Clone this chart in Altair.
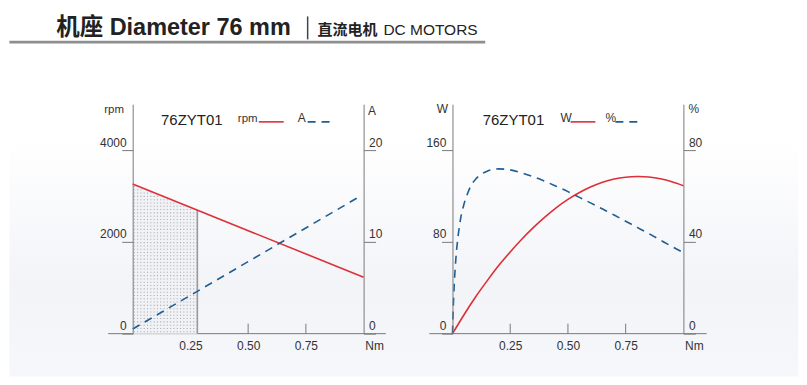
import altair as alt
import numpy as np
import pandas as pd

# ---------------- data ----------------
model = "76ZYT01"
header_main = "机座 Diameter 76 mm"
header_cn = "直流电机"
header_en = "DC MOTORS"

speed_torque = [0.0, 1.0]
speed_rpm = [3260, 1230]

current_torque = [0.0, 0.98]
current_amp = [0.5, 14.9]

rated_torque = [0.0, 0.28]
rated_rpm = [3260, 2692]

power_torque = [0.0, 0.05, 0.10, 0.15, 0.20, 0.25, 0.30, 0.35, 0.40, 0.45, 0.50,
                0.55, 0.60, 0.65, 0.70, 0.75, 0.80, 0.85, 0.90, 0.95, 1.00]
power_w = [0, 16.5, 32, 46, 59.3, 71.2, 82.3, 92.4, 101.5, 109.8, 117,
           123, 128, 132, 134.8, 136.4, 137, 136.6, 135, 132.4, 129]

eff_torque = [0.0, 0.003, 0.008, 0.015, 0.025, 0.035, 0.05, 0.065, 0.08, 0.10, 0.125,
              0.15, 0.20, 0.25, 0.30, 0.35, 0.40, 0.45, 0.50, 0.55, 0.60, 0.65, 0.70,
              0.75, 0.80, 0.85, 0.90, 0.95, 1.00]
eff_pct = [0, 10, 22, 33, 43, 50, 56.5, 61, 64.5, 67.3, 69.5,
           70.8, 71.8, 71.4, 70.1, 68.4, 66.4, 64.2, 61.9, 59.4, 56.9, 54.3, 51.7,
           49.0, 46.3, 43.6, 40.8, 38.0, 35.3]

x_ticks = [0.25, 0.50, 0.75]
x_unit = "Nm"
rpm_ticks = [0, 2000, 4000]
amp_ticks = [0, 10, 20]
w_ticks = [0, 80, 160]
pct_ticks = [0, 40, 80]

# ---------------- styling ----------------
FONT = "Liberation Sans"
CJK = "Liberation Sans, Noto Sans CJK SC"
RED = "#dc2f37"
BLUE = "#1f5e94"
AXC = "#7a7a7a"
TXT = "#333333"
W = 231.5
H = 230

xscale = alt.Scale(domain=[0, 1], nice=False, zero=False)
xaxis = alt.Axis(values=x_ticks, format=".2f", tickSize=0, domain=False, grid=False,
                 labelPadding=7, labelFontSize=12, labelFont=FONT, labelColor=TXT,
                 labelFlush=False, labelOverlap=False, title=None, zindex=1)


def yaxis(vals, orient):
    if orient == "left":
        return alt.Axis(values=vals, orient="left", format="d", tickSize=11, labelPadding=-4.4,
                        labelAlign="right", labelBaseline="alphabetic", labelOffset=-4,
                        domainColor=AXC, tickColor=AXC, labelColor=TXT, labelFontSize=12,
                        labelFont=FONT, grid=False, title=None, labelOverlap=False,
                        labelFlush=False, zindex=1)
    return alt.Axis(values=vals, orient="right", format="d", tickSize=12, labelPadding=-7,
                    labelAlign="left", labelBaseline="alphabetic", labelOffset=-4,
                    domainColor=AXC, tickColor=AXC, labelColor=TXT, labelFontSize=12,
                    labelFont=FONT, grid=False, title=None, labelOverlap=False,
                    labelFlush=False, zindex=1)


one = pd.DataFrame({"k": [0]})


def txt(s, x, y, size=12, weight="normal", align="left", font=FONT, color=TXT):
    return alt.Chart(one).mark_text(text=s, fontSize=size, fontWeight=weight, align=align,
                                    baseline="alphabetic", font=font, color=color).encode(
        x=alt.value(x), y=alt.value(y))


def hrule(x1, x2, y, color, width=1.5, dash=None):
    kw = dict(color=color, strokeWidth=width)
    if dash:
        kw["strokeDash"] = dash
    return alt.Chart(one).mark_rule(**kw).encode(x=alt.value(x1), x2=alt.value(x2), y=alt.value(y))


def x_decor(line_left, line_right):
    ticks_df = pd.DataFrame({"T": x_ticks})
    ticks = alt.Chart(ticks_df).mark_rule(color=AXC, strokeWidth=1).encode(
        x=alt.X("T:Q", scale=xscale, axis=xaxis), y=alt.value(H), y2=alt.value(H - 10))
    base = hrule(line_left, line_right, H, AXC, 1)
    unit = alt.Chart(pd.DataFrame({"T": [1.0]})).mark_text(
        text=x_unit, fontSize=12, font=FONT, color=TXT, baseline="top", dx=11).encode(
        x=alt.X("T:Q", scale=xscale, axis=xaxis), y=alt.value(H + 7))
    return [base, ticks, unit]


# ---------------- background gradient (defines the canvas) ----------------
grad = alt.LinearGradient(gradient="linear", x1=0, x2=0, y1=0, y2=1,
                          stops=[alt.GradientStop(color="#ffffff", offset=0),
                                 alt.GradientStop(color="#ffffff", offset=0.35),
                                 alt.GradientStop(color="#f3f4f8", offset=0.75),
                                 alt.GradientStop(color="#f6f7fa", offset=1)])
bg = alt.Chart(one).mark_rect(fill=grad).encode(
    x=alt.value(-123.6), x2=alt.value(667.4), y=alt.value(-96), y2=alt.value(273))

header = [
    hrule(-123.6, 353.4, -62.3, "#8e8e8e", 2.7),
    txt(header_main, -76.6, -69, size=23.5, weight="bold", font=CJK, color="#222222"),
    alt.Chart(one).mark_rule(color="#444444", strokeWidth=1.5).encode(
        x=alt.value(175.4), y=alt.value(-88), y2=alt.value(-65)),
    txt(header_cn, 185.4, -69, size=15, weight="bold", font=CJK, color="#222222"),
    txt(header_en, 251.4, -69, size=15.5, color="#222222"),
]

# ---------------- left panel: speed / current ----------------
df_speed = pd.DataFrame({"T": speed_torque, "rpm": speed_rpm})
df_cur = pd.DataFrame({"T": current_torque, "amp": current_amp})
df_rated = pd.DataFrame({"T": rated_torque, "rpm": rated_rpm})
df_edge = pd.DataFrame({"T": [rated_torque[-1]], "rpm": [rated_rpm[-1]], "zero": [0]})

# dotted texture for the rated-load zone
gx = np.arange(0.007, rated_torque[-1], 0.0143)
gy = np.arange(40, max(rated_rpm), 72)
GX, GY = np.meshgrid(gx, gy)
GX, GY = GX.ravel(), GY.ravel()
keep = GY < np.interp(GX, rated_torque, rated_rpm) - 25
df_dots = pd.DataFrame({"T": GX[keep], "rpm": GY[keep]})

rpm_scale = alt.Scale(domain=[0, 5000], nice=False, zero=True)
amp_scale = alt.Scale(domain=[0, 25], nice=False, zero=True)
x_enc = alt.X("T:Q", scale=xscale, axis=xaxis)
y_rpm = alt.Y("rpm:Q", scale=rpm_scale, axis=yaxis(rpm_ticks, "left"))

zone = alt.Chart(df_rated).mark_area(color="#f1f2f5", opacity=1).encode(x=x_enc, y=y_rpm)
dots = alt.Chart(df_dots).mark_square(size=1.1, color="#9c9da3", opacity=0.85).encode(x=x_enc, y=y_rpm)
edge = alt.Chart(df_edge).mark_rule(color="#9a9a9a", strokeWidth=1.6).encode(
    x=x_enc, y=y_rpm, y2=alt.Y2("zero:Q"))
speed = alt.Chart(df_speed).mark_line(color=RED, strokeWidth=1.6).encode(x=x_enc, y=y_rpm)
current = alt.Chart(df_cur).mark_line(color=BLUE, strokeWidth=1.6, strokeDash=[8, 6]).encode(
    x=x_enc, y=alt.Y("amp:Q", scale=amp_scale, axis=yaxis(amp_ticks, "right")))

left_annot = [
    txt(model, 28.4, 21, size=15, color="#222222"),
    txt("rpm", 105.4, 17.7, size=11.5),
    hrule(126.4, 151.4, 17.7, RED, 1.6),
    txt("A", 165.4, 17.7, size=12),
    hrule(175.4, 198.4, 17.7, BLUE, 1.6, [8, 6]),
    txt("rpm", -18.6, 8.5, size=11.5, align="center"),
    txt("A", 240, 11, size=12, align="center"),
]

left_inner = alt.layer(zone, dots, edge, speed)
left = alt.layer(
    alt.layer(bg, *header, *x_decor(-24.6, W + 22.3), *left_annot, left_inner),
    current,
).resolve_scale(y="independent").properties(width=W, height=H)

# ---------------- right panel: power / efficiency ----------------
df_pow = pd.DataFrame({"T": power_torque, "W": power_w})
df_eff = pd.DataFrame({"T": eff_torque, "pct": eff_pct})
w_scale = alt.Scale(domain=[0, 200], nice=False, zero=True)
pct_scale = alt.Scale(domain=[0, 100], nice=False, zero=True)

power = alt.Chart(df_pow).mark_line(color=RED, strokeWidth=1.6, interpolate="natural").encode(
    x=x_enc, y=alt.Y("W:Q", scale=w_scale, axis=yaxis(w_ticks, "left")))
eff = alt.Chart(df_eff).mark_line(color=BLUE, strokeWidth=1.6, strokeDash=[8, 6],
                                  interpolate="monotone").encode(
    x=x_enc, y=alt.Y("pct:Q", scale=pct_scale, axis=yaxis(pct_ticks, "right")))

right_annot = [
    txt(model, 30.3, 21, size=15, color="#222222"),
    txt("W", 108.3, 17.7, size=12),
    hrule(118.3, 143.3, 17.7, RED, 1.6),
    txt("%", 153.3, 17.7, size=12),
    hrule(163.3, 191.3, 17.7, BLUE, 1.6, [8, 6]),
    txt("W", -10, 9.3, size=12, align="center"),
    txt("%", 242, 9, size=12, align="center"),
]

right = alt.layer(
    alt.layer(*x_decor(-23.3, W + 23.4), *right_annot, power),
    eff,
).resolve_scale(y="independent").properties(width=W, height=H)

chart = alt.hconcat(left, right, spacing=88.6, bounds="flush").properties(
    autosize=alt.AutoSizeParams(type="pad"),
    padding=0,
    background="#ffffff",
).configure_view(stroke=None)

chart.save("out.html", embed_options={"renderer": "svg", "actions": False})
